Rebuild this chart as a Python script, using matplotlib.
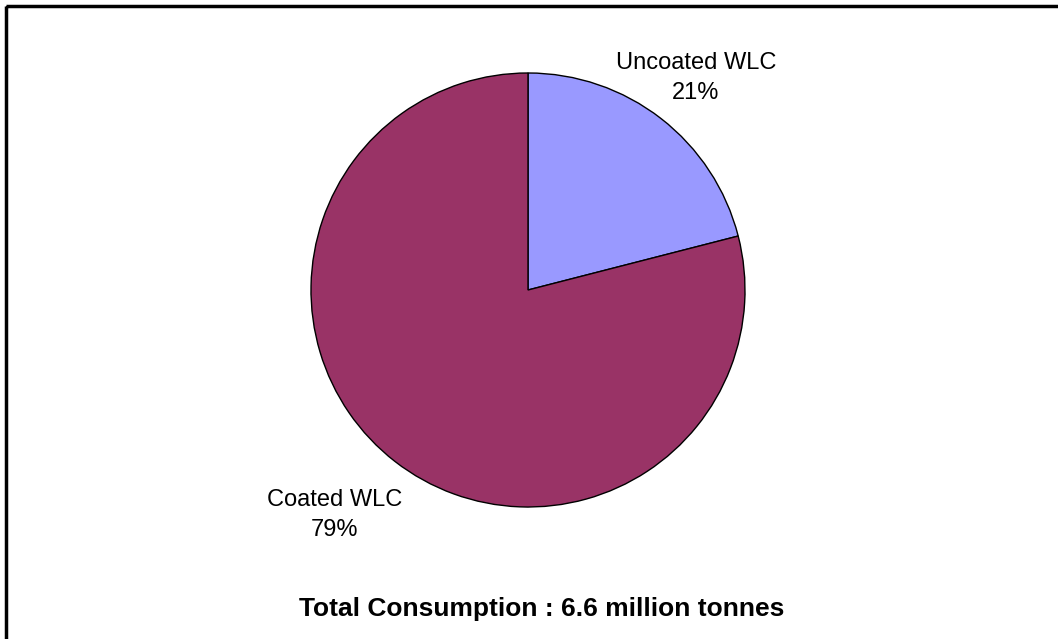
import matplotlib
matplotlib.use("Agg")
import matplotlib.pyplot as plt
from matplotlib.patches import Rectangle

categories = ["Uncoated WLC", "Coated WLC"]
shares = [21, 79]
colors = ["#9999FF", "#993366"]
title_text = "Total Consumption : 6.6 million tonnes"

W, H = 1058, 639
fig = plt.figure(figsize=(W / 100, H / 100), dpi=100)
ax = fig.add_axes([0, 0, 1, 1])

# pixel-style coordinates with y growing downward, so the wedge sweep
# runs counterclockwise in data terms to appear clockwise from 12 o'clock
cx, cy, r = 528, 290, 217
ax.pie(
    shares, colors=colors, startangle=-90, counterclock=True,
    center=(cx, cy), radius=r, frame=True,
    wedgeprops=dict(edgecolor="black", linewidth=1.0),
)
ax.set_xlim(0, W)
ax.set_ylim(H, 0)
ax.set_aspect("equal")
ax.axis("off")

label_pos = {"Uncoated WLC": (696, 78), "Coated WLC": (335, 515)}
total = sum(shares)
for name, val in zip(categories, shares):
    x, y = label_pos[name]
    ax.text(x, y, f"{name}\n{round(100 * val / total)}%", ha="center", va="center",
            fontsize=17, family="Liberation Sans", linespacing=1.45)

ax.text(542, 609, title_text, ha="center", va="center", fontsize=19,
        fontweight="bold", family="Liberation Sans")

ax.add_patch(Rectangle((6, 6), W, H, fill=False, edgecolor="black", linewidth=2.5,
                       clip_on=False))

fig.savefig("out.png", dpi=100)
